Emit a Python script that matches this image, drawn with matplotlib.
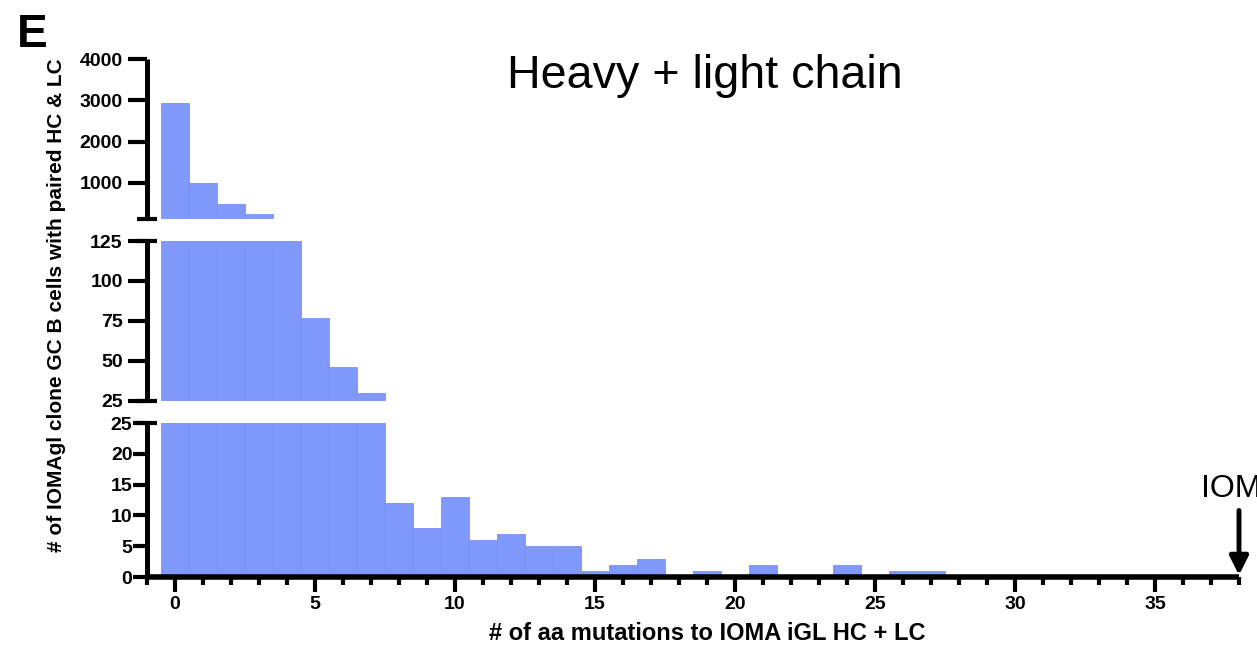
import matplotlib
matplotlib.use("Agg")
import matplotlib.pyplot as plt
from matplotlib.ticker import FixedLocator, MultipleLocator

plt.rcParams['font.family'] = ['Liberation Sans', 'DejaVu Sans']

# histogram of aa mutations (bin centres 0..37) and cell counts
mutations = list(range(38))
counts = [2943, 1000, 491, 238, 125, 77, 46, 30, 12, 8, 13, 6, 7, 5, 5, 1,
          2, 3, 0, 1, 0, 2, 0, 0, 2, 0, 1, 1, 0, 0, 0, 0, 0, 0, 0, 0, 0, 0]

# broken y axis: (low, high, tick values) for each segment, bottom to top
segments = [(0, 25, [0, 5, 10, 15, 20, 25]),
            (25, 125, [25, 50, 75, 100, 125]),
            (125, 4000, [1000, 2000, 3000, 4000])]
x_major = [0, 5, 10, 15, 20, 25, 30, 35]

bar_color = '#8199fd'
edge_color = '#7891fb'
lw = 3.6

fig = plt.figure(figsize=(12.57, 6.55), dpi=100)
W, H = 1257, 655
left, right = 147 / W, 1239 / W
boxes = [(577, 423), (400.7, 241), (219, 59)]  # pixel (bottom, top)

axes = []
for i, ((y0, y1, yt), (pb, pt)) in enumerate(zip(segments, boxes)):
    ax = fig.add_axes([left, 1 - pb / H, right - left, (pb - pt) / H])
    ax.bar(mutations, counts, width=1.0, color=bar_color,
           edgecolor=edge_color, linewidth=0.6, zorder=1)
    ax.set_xlim(-1, 38)
    # keep the zero-height tops of the lower panel out of the top one
    ax.set_ylim(y0 + (1 if i == 2 else 0), y1)
    for s in ('top', 'right'):
        ax.spines[s].set_visible(False)
    ax.spines['left'].set_linewidth(lw)
    ax.spines['left'].set_capstyle('butt')
    ax.yaxis.set_major_locator(FixedLocator(yt))
    if i == 0:
        ax.tick_params(axis='y', direction='out', length=10, width=3,
                       labelsize=14, pad=0.5)
    else:
        ax.tick_params(axis='y', direction='out', length=14, width=3,
                       labelsize=14, pad=3.5)
    for lab in ax.get_yticklabels():
        lab.set_fontweight('bold')
    if i == 0:
        ax.spines['bottom'].set_linewidth(4)
        ax.spines['bottom'].set_capstyle('butt')
        ax.xaxis.set_major_locator(FixedLocator(x_major))
        ax.xaxis.set_minor_locator(MultipleLocator(1))
        ax.tick_params(axis='x', which='major', direction='out', length=11,
                       width=3, labelsize=14, pad=3)
        ax.tick_params(axis='x', which='minor', direction='out', length=6,
                       width=3)
        for lab in ax.get_xticklabels():
            lab.set_fontweight('bold')
    else:
        ax.spines['bottom'].set_visible(False)
        ax.set_xticks([])
    # caps at the axis breaks
    caps = {0: [25], 1: [25, 125], 2: [126]}[i]
    for yc in caps:
        ax.plot([-0.0092, 0.0092], [yc, yc], transform=ax.get_yaxis_transform(),
                color='black', lw=3, solid_capstyle='butt', clip_on=False,
                zorder=5)
    axes.append(ax)

fig.text(0.045, 0.534, '# of IOMAgl clone GC B cells with paired HC & LC',
         rotation=90, ha='center', va='center', fontsize=15,
         fontweight='bold')
fig.text(707 / W, 1 - 633 / H, '# of aa mutations to IOMA iGL HC + LC',
         ha='center', va='center', fontsize=17, fontweight='bold')
fig.text(705 / W, 1 - 76 / H, 'Heavy + light chain', ha='center',
         va='center', fontsize=33.6)
fig.text(17 / W, 1 - 47 / H, 'E', ha='left', va='baseline', fontsize=33,
         fontweight='bold')

# IOMA marker at 38 mutations
ax0 = axes[0]
ax0.annotate('', xy=(38, 0.3), xytext=(38, 10.8),
             arrowprops=dict(arrowstyle='-|>', color='black', lw=3.5,
                             mutation_scale=28, shrinkA=0, shrinkB=0),
             annotation_clip=False)
fig.text(1200.7 / W, 1 - 496.7 / H, 'IOMA', ha='left', va='baseline',
         fontsize=23)

fig.savefig('out.png', dpi=100)
